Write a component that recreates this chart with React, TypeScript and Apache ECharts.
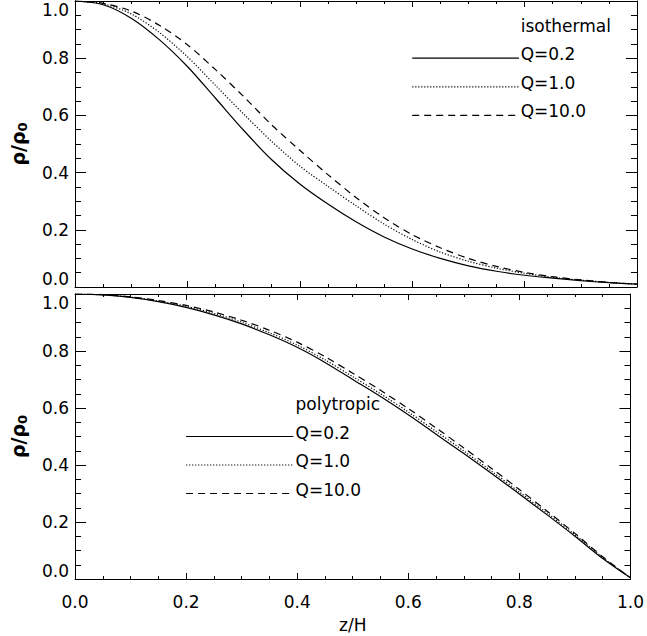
import React, { useEffect, useRef } from "react";
import * as echarts from "echarts";

// sample positions z/H
const zH = [0, 0.05, 0.1, 0.15, 0.2, 0.25, 0.3, 0.35, 0.4, 0.45, 0.5, 0.55, 0.6, 0.65, 0.7, 0.75, 0.8, 0.85, 0.9, 0.95, 1.0];

// isothermal panel
const isoQ02 = [1.0, 0.987, 0.94, 0.865, 0.771, 0.66, 0.548, 0.445, 0.36, 0.29, 0.228, 0.175, 0.133, 0.1, 0.074, 0.055, 0.041, 0.031, 0.022, 0.015, 0.01];
const isoQ10 = [1.0, 0.99, 0.955, 0.89, 0.805, 0.705, 0.605, 0.509, 0.423, 0.352, 0.284, 0.22, 0.166, 0.122, 0.09, 0.066, 0.048, 0.034, 0.024, 0.016, 0.01];
const isoQ100 = [1.0, 0.992, 0.965, 0.915, 0.847, 0.76, 0.666, 0.567, 0.478, 0.393, 0.313, 0.242, 0.183, 0.137, 0.1, 0.072, 0.051, 0.036, 0.025, 0.016, 0.01];

// polytropic panel
const polyQ02 = [1.0, 0.997, 0.988, 0.973, 0.953, 0.927, 0.895, 0.857, 0.813, 0.76, 0.7, 0.64, 0.576, 0.508, 0.44, 0.37, 0.298, 0.225, 0.15, 0.072, 0.004];
const polyQ10 = [1.0, 0.997, 0.989, 0.975, 0.957, 0.932, 0.901, 0.864, 0.821, 0.769, 0.71, 0.65, 0.586, 0.518, 0.449, 0.378, 0.305, 0.231, 0.155, 0.075, 0.004];
const polyQ100 = [1.0, 0.998, 0.99, 0.977, 0.96, 0.937, 0.908, 0.873, 0.831, 0.78, 0.722, 0.662, 0.598, 0.53, 0.46, 0.388, 0.314, 0.238, 0.16, 0.078, 0.004];

const qLabels = ["Q=0.2", "Q=1.0", "Q=10.0"];
const panelTitles = ["isothermal", "polytropic"];
// legend anchors in data coordinates
const legendTop = { x0: 0.6, x1: 0.79, tx: 0.793, titleY: 0.9, rows: [0.8, 0.7, 0.6] };
const legendBottom = { x0: 0.2, x1: 0.393, tx: 0.397, titleY: 0.6, rows: [0.5, 0.4, 0.3] };

const FONT = "DejaVu Sans";
const dashStyles: any[] = ["solid", [1.2, 1.8], [7, 5]];

export default function App() {
  const ref = useRef<HTMLDivElement>(null);
  useEffect(() => {
    if (!ref.current) return;
    const chart = echarts.init(ref.current, null, { renderer: "svg" });
    const black = "#000";
    const mkX = (gi: number, pos: "top" | "bottom", labels: boolean, name?: string) => ({
      type: "value",
      gridIndex: gi,
      position: pos,
      min: 0,
      max: 1,
      interval: 0.2,
      axisLine: { show: true, onZero: false, lineStyle: { color: black, width: 1 } },
      axisTick: { show: true, inside: true, length: 6, lineStyle: { color: black, width: 1 } },
      minorTick: { show: true, splitNumber: 4, length: 3, lineStyle: { color: black, width: 1 } },
      splitLine: { show: false },
      minorSplitLine: { show: false },
      axisLabel: {
        show: labels,
        margin: 14,
        color: black,
        fontFamily: FONT,
        fontSize: 17,
        formatter: (v: number) => v.toFixed(1),
      },
      name: name || "",
      nameLocation: "middle",
      nameGap: 37,
      nameTextStyle: { color: black, fontFamily: FONT, fontSize: 17 },
    });
    const mkY = (gi: number, pos: "left" | "right", labels: boolean, withName: boolean) => ({
      type: "value",
      gridIndex: gi,
      position: pos,
      min: 0,
      max: 1,
      interval: 0.2,
      axisLine: { show: true, onZero: false, lineStyle: { color: black, width: 1 } },
      axisTick: { show: true, inside: true, length: 11, lineStyle: { color: black, width: 1 } },
      minorTick: { show: true, splitNumber: 4, length: 6, lineStyle: { color: black, width: 1 } },
      splitLine: { show: false },
      minorSplitLine: { show: false },
      axisLabel: {
        show: labels,
        margin: 6,
        color: black,
        fontFamily: FONT,
        fontSize: 17,
        formatter: (v: number) => v.toFixed(1),
        verticalAlignMaxLabel: "top",
        verticalAlignMinLabel: "bottom",
      },
      name: withName ? "{r|ρ/ρ}{s|0}" : "",
      nameLocation: "middle",
      nameRotate: 90,
      nameGap: 46,
      nameTextStyle: {
        color: black,
        rich: {
          r: { fontFamily: FONT, fontSize: 19, fontWeight: "bold", color: black, lineHeight: 22 },
          s: { fontFamily: FONT, fontSize: 13, fontWeight: "bold", color: black, lineHeight: 22, verticalAlign: "bottom", padding: [8, 0, 0, 0] },
        },
      },
    });

    const curve = (vals: number[], k: number, xi: number, yi: number) => ({
      type: "line",
      xAxisIndex: xi,
      yAxisIndex: yi,
      data: zH.map((x, i) => [x, vals[i]]),
      showSymbol: false,
      symbol: "none",
      smooth: 0.3,
      silent: true,
      lineStyle: { color: black, width: 1.2, type: dashStyles[k] },
    });
    const legLine = (lg: any, k: number, xi: number, yi: number) => ({
      type: "line",
      xAxisIndex: xi,
      yAxisIndex: yi,
      data: [[lg.x0, lg.rows[k]], [lg.x1, lg.rows[k]]],
      showSymbol: false,
      symbol: "none",
      silent: true,
      lineStyle: { color: black, width: 1.2, type: dashStyles[k] },
    });

    chart.setOption({
      animation: false,
      backgroundColor: "#fff",
      grid: [
        { left: 68, right: 10, top: 1, height: 286 },
        { left: 68, right: 10, top: 294, height: 285 },
      ],
      xAxis: [mkX(0, "bottom", false), mkX(0, "top", false), mkX(1, "bottom", true, "z/H"), mkX(1, "top", false)],
      yAxis: [mkY(0, "left", true, true), mkY(0, "right", false, false), mkY(1, "left", true, true), mkY(1, "right", false, false)],
      series: [
        curve(isoQ02, 0, 0, 0),
        curve(isoQ10, 1, 0, 0),
        curve(isoQ100, 2, 0, 0),
        curve(polyQ02, 0, 2, 2),
        curve(polyQ10, 1, 2, 2),
        curve(polyQ100, 2, 2, 2),
        legLine(legendTop, 0, 0, 0),
        legLine(legendTop, 1, 0, 0),
        legLine(legendTop, 2, 0, 0),
        legLine(legendBottom, 0, 2, 2),
        legLine(legendBottom, 1, 2, 2),
        legLine(legendBottom, 2, 2, 2),
      ],
    });

    const texts: any[] = [];
    const addLegendTexts = (lg: any, gi: number, title: string) => {
      const t = chart.convertToPixel({ gridIndex: gi } as any, [lg.tx, lg.titleY]) as number[];
      texts.push({ type: "text", x: t[0], y: t[1] - 4, style: { text: title, fill: black, fontFamily: FONT, fontSize: 17, align: "left", verticalAlign: "middle" } });
      lg.rows.forEach((ry: number, k: number) => {
        const p = chart.convertToPixel({ gridIndex: gi } as any, [lg.tx, ry]) as number[];
        texts.push({ type: "text", x: p[0], y: p[1] - 4, style: { text: qLabels[k], fill: black, fontFamily: FONT, fontSize: 17, align: "left", verticalAlign: "middle" } });
      });
    };
    addLegendTexts(legendTop, 0, panelTitles[0]);
    addLegendTexts(legendBottom, 1, panelTitles[1]);
    chart.setOption({ graphic: texts });

    return () => chart.dispose();
  }, []);
  return <div ref={ref} style={{ position: "fixed", left: 0, top: 0, width: 647, height: 636 }} />;
}
